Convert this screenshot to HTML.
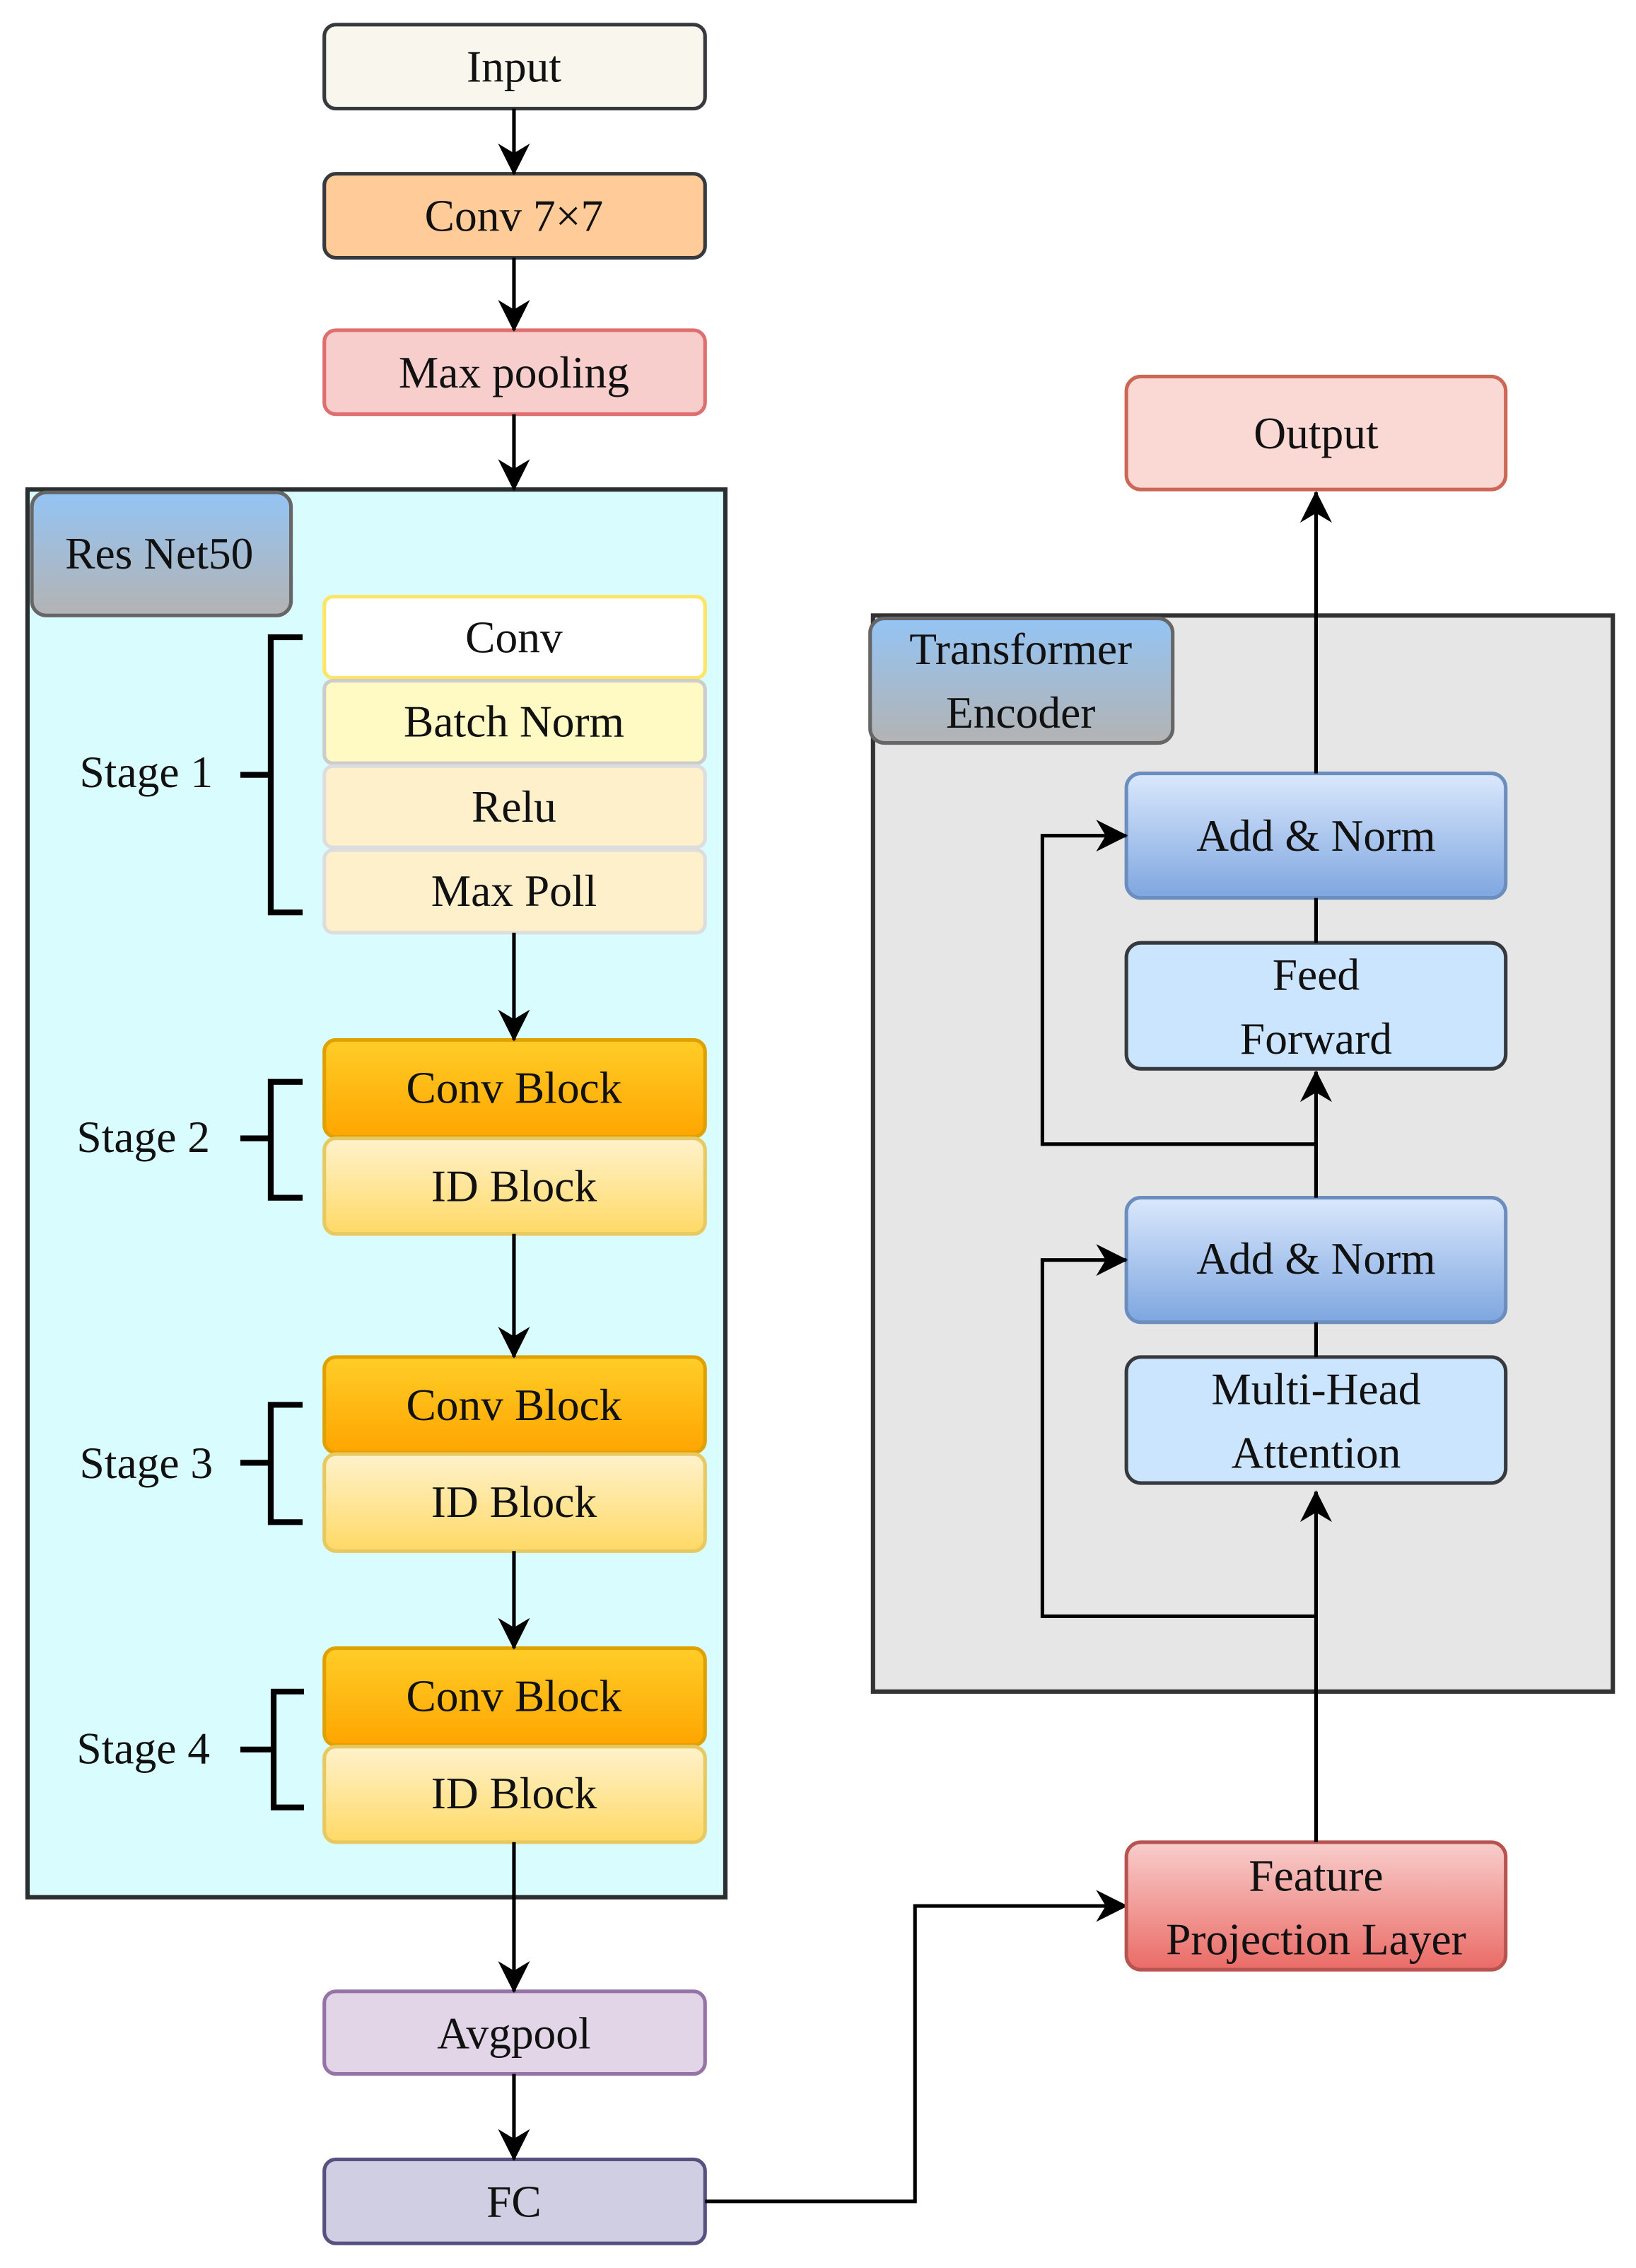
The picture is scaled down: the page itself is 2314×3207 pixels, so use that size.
<!DOCTYPE html>
<html><head><meta charset="utf-8"><style>
html,body{margin:0;padding:0;background:#fff;}
svg{display:block;}
text{font-family:"Liberation Serif","Times New Roman",Times,"DejaVu Serif",serif;font-size:31px;fill:#111;text-anchor:middle;dominant-baseline:central;}
</style></head><body>
<svg width="2314" height="3207" viewBox="0 0 1130 1566" preserveAspectRatio="none" xmlns="http://www.w3.org/2000/svg">
<defs>
<marker id="ar" viewBox="0 0 20 20" refX="19" refY="10" markerWidth="22" markerHeight="22" markerUnits="userSpaceOnUse" orient="auto">
<path d="M0,0 L20,10 L0,20 L6,10 Z" fill="#000"/></marker>
<linearGradient id="gO" x1="0" y1="0" x2="0" y2="1"><stop offset="0" stop-color="#ffcd28"/><stop offset="1" stop-color="#ffa500"/></linearGradient>
<linearGradient id="gI" x1="0" y1="0" x2="0" y2="1"><stop offset="0" stop-color="#fff2cc"/><stop offset="1" stop-color="#ffd966"/></linearGradient>
<linearGradient id="gB" x1="0" y1="0" x2="0" y2="1"><stop offset="0" stop-color="#dae8fc"/><stop offset="1" stop-color="#7ea6e0"/></linearGradient>
<linearGradient id="gL" x1="0" y1="0" x2="0" y2="1"><stop offset="0" stop-color="#94c4f4"/><stop offset="1" stop-color="#b3b3b3"/></linearGradient>
<linearGradient id="gR" x1="0" y1="0" x2="0" y2="1"><stop offset="0" stop-color="#f8cecc"/><stop offset="1" stop-color="#ea6b66"/></linearGradient>
</defs>
<g stroke-width="2.5">
<rect x="224" y="17" width="263" height="58" rx="8" fill="#f9f7ed" stroke="#36393d"/>
<text x="355" y="46">Input</text>
<rect x="224" y="120" width="263" height="58" rx="8" fill="#ffcc99" stroke="#36393d"/>
<text x="355" y="149">Conv 7×7</text>
<rect x="224" y="228" width="263" height="58" rx="8" fill="#f8cecc" stroke="#dd6f6f"/>
<text x="355" y="257">Max pooling</text>
<rect x="19" y="338" width="482" height="972" fill="#d9fdff" stroke="#2a2e2e" stroke-width="3"/>
<rect x="22" y="340" width="179" height="85" rx="10" fill="url(#gL)" stroke="#666"/>
<text x="110" y="382">Res Net50</text>
<rect x="224" y="412" width="263" height="56" rx="6" fill="#fff" stroke="#ffe566"/>
<text x="355" y="440">Conv</text>
<rect x="224" y="470" width="263" height="57" rx="6" fill="#fff9c4" stroke="#ccc"/>
<text x="355" y="498">Batch Norm</text>
<rect x="224" y="529" width="263" height="56" rx="6" fill="#fff0cc" stroke="#ddd"/>
<text x="355" y="557">Relu</text>
<rect x="224" y="587" width="263" height="57" rx="6" fill="#fff0cc" stroke="#ddd"/>
<text x="355" y="615">Max Poll</text>
<rect x="224" y="718" width="263" height="67" rx="8" fill="url(#gO)" stroke="#e0a000"/>
<text x="355" y="751">Conv Block</text>
<rect x="224" y="786" width="263" height="66" rx="8" fill="url(#gI)" stroke="#e8c860"/>
<text x="355" y="819">ID Block</text>
<rect x="224" y="937" width="263" height="66" rx="8" fill="url(#gO)" stroke="#e0a000"/>
<text x="355" y="970">Conv Block</text>
<rect x="224" y="1004" width="263" height="67" rx="8" fill="url(#gI)" stroke="#e8c860"/>
<text x="355" y="1037">ID Block</text>
<rect x="224" y="1138" width="263" height="67" rx="8" fill="url(#gO)" stroke="#e0a000"/>
<text x="355" y="1171">Conv Block</text>
<rect x="224" y="1206" width="263" height="66" rx="8" fill="url(#gI)" stroke="#e8c860"/>
<text x="355" y="1238">ID Block</text>
<g fill="none" stroke="#000" stroke-width="4">
<path d="M209,440 H187 V630 H209 M166,535 H187"/>
<path d="M209,747 H187 V827 H209 M166,786 H187"/>
<path d="M209,970 H187 V1051 H209 M166,1010 H187"/>
<path d="M210,1168 H189 V1248 H210 M166,1208 H189"/>
</g>
<text x="101" y="533">Stage 1</text>
<text x="99" y="785">Stage 2</text>
<text x="101" y="1010">Stage 3</text>
<text x="99" y="1207">Stage 4</text>
<rect x="224" y="1375" width="263" height="57" rx="8" fill="#e1d5e7" stroke="#9673a6"/>
<text x="355" y="1404">Avgpool</text>
<rect x="224" y="1491" width="263" height="58" rx="8" fill="#d0cee2" stroke="#56517e"/>
<text x="355" y="1520">FC</text>
<g stroke="#000" stroke-width="2.5" fill="none" marker-end="url(#ar)">
<path d="M355,75 V120"/>
<path d="M355,178 V228"/>
<path d="M355,286 V338"/>
<path d="M355,644 V718"/>
<path d="M355,852 V937"/>
<path d="M355,1071 V1138"/>
<path d="M355,1272 V1375"/>
<path d="M355,1432 V1491"/>
<path d="M487,1520 H632 V1316 H778"/>
</g>
<rect x="778" y="260" width="262" height="78" rx="10" fill="#fad9d5" stroke="#cc6655"/>
<text x="909" y="299">Output</text>
<rect x="603" y="425" width="511" height="743" fill="#e6e6e6" stroke="#333" stroke-width="3"/>
<rect x="601" y="427" width="209" height="86" rx="10" fill="url(#gL)" stroke="#666"/>
<text x="705" y="448">Transformer</text>
<text x="705" y="492">Encoder</text>
<rect x="778" y="534" width="262" height="86" rx="10" fill="url(#gB)" stroke="#6c8ebf"/>
<text x="909" y="577">Add &amp; Norm</text>
<rect x="778" y="651" width="262" height="87" rx="10" fill="#cce5ff" stroke="#36393d"/>
<text x="909" y="673">Feed</text>
<text x="909" y="717">Forward</text>
<rect x="778" y="827" width="262" height="86" rx="10" fill="url(#gB)" stroke="#6c8ebf"/>
<text x="909" y="869">Add &amp; Norm</text>
<rect x="778" y="937" width="262" height="87" rx="10" fill="#cce5ff" stroke="#36393d"/>
<text x="909" y="959">Multi-Head</text>
<text x="909" y="1003">Attention</text>
<rect x="778" y="1272" width="262" height="88" rx="10" fill="url(#gR)" stroke="#b85450"/>
<text x="909" y="1295">Feature</text>
<text x="909" y="1339">Projection Layer</text>
<g stroke="#000" stroke-width="2.5" fill="none">
<path d="M909,534 V340" marker-end="url(#ar)"/>
<path d="M909,620 V651"/>
<path d="M909,827 V740" marker-end="url(#ar)"/>
<path d="M909,790 H720 V577 H778" marker-end="url(#ar)"/>
<path d="M909,913 V937"/>
<path d="M909,1272 V1030" marker-end="url(#ar)"/>
<path d="M909,1116 H720 V870 H778" marker-end="url(#ar)"/>
</g>
</g>
</svg>
</body></html>
